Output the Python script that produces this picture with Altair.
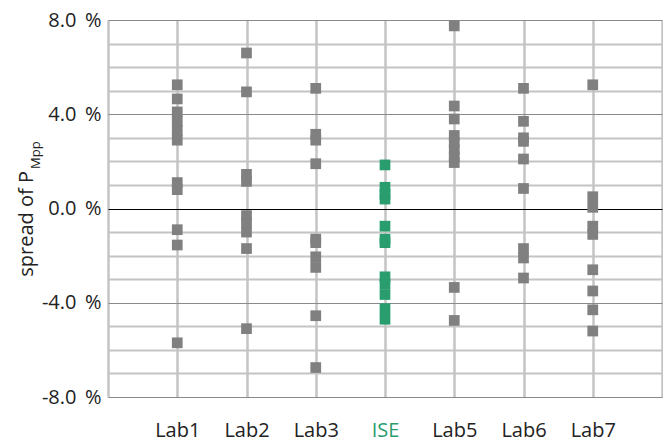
import altair as alt
import pandas as pd

labs = ["Lab1", "Lab2", "Lab3", "ISE", "Lab5", "Lab6", "Lab7"]
lab1 = [5.25, 4.65, 4.1, 3.7, 3.3, 2.9, 1.1, 0.8, -0.9, -1.55, -5.7]
lab2 = [6.6, 4.95, 1.45, 1.15, -0.3, -0.6, -1.0, -1.7, -5.1]
lab3 = [5.1, 3.15, 2.9, 1.9, -1.3, -1.45, -2.05, -2.5, -4.55, -6.75]
ise = [1.85, 0.9, 0.6, 0.4, -0.75, -1.3, -1.45, -2.9, -3.2, -3.65, -4.25, -4.7]
lab5 = [7.75, 4.35, 3.8, 3.1, 2.8, 2.5, 2.2, 1.95, -3.35, -4.75]
lab6 = [5.1, 3.7, 3.0, 2.85, 2.1, 0.85, -1.7, -2.1, -2.95]
lab7 = [5.25, 0.5, 0.05, -0.75, -1.1, -2.6, -3.5, -4.3, -5.2]
series = [lab1, lab2, lab3, ise, lab5, lab6, lab7]

rows = []
for i, (name, vals) in enumerate(zip(labs, series)):
    for v in vals:
        rows.append({"lab": name, "pos": i + 1, "spread": v, "isISE": name == "ISE"})
df = pd.DataFrame(rows)

GREEN = "#2a9d6f"
GRAY = "#808080"
FONT = "Open Sans"
TXT = "#222222"

lab_array = "[" + ",".join("'" + l + "'" for l in labs) + "]"

x_axis = alt.Axis(
    values=list(range(0, 9)),
    labelExpr=f"datum.value >= 1 && datum.value <= 7 ? {lab_array}[datum.value - 1] : ''",
    grid=True,
    gridColor="#c4c4c4",
    gridWidth=2.5,
    ticks=False,
    domain=False,
    title=None,
    labelFontSize=20,
    labelFont=FONT,
    labelColor={"condition": {"test": "datum.value === 4", "value": GREEN}, "value": TXT},
    labelPadding=23,
)

y_axis = alt.Axis(
    values=list(range(-8, 9)),
    labelExpr="datum.value % 4 === 0 ? (datum.value < 0 ? '-' : '') + format(abs(datum.value), '.1f') + '\u2009 %' : ''",
    grid=True,
    gridColor={"condition": [
        {"test": "datum.value === 0", "value": "#000000"},
        {"test": "datum.value % 4 === 0", "value": "#8a8a8a"}],
        "value": "#c4c4c4"},
    gridWidth={"condition": {"test": "datum.value % 4 === 0", "value": 1.2}, "value": 2},
    ticks=False,
    domain=False,
    title=None,
    labelFontSize=20,
    labelFont=FONT,
    labelColor=TXT,
    labelPadding=7,
)

points = alt.Chart(df).mark_square(size=115, opacity=1).encode(
    x=alt.X("pos:Q", scale=alt.Scale(domain=[0, 8], nice=False), axis=x_axis),
    y=alt.Y("spread:Q", scale=alt.Scale(domain=[-8, 8], nice=False), axis=y_axis),
    color=alt.Color("isISE:N", scale=alt.Scale(domain=[False, True], range=[GRAY, GREEN]), legend=None),
)

title_main = alt.Chart(pd.DataFrame({"t": ["spread of P"]})).mark_text(
    angle=270, align="right", baseline="middle", fontSize=20, font=FONT, color=TXT
).encode(text="t:N", x=alt.value(-81), y=alt.value(151))

title_sub = alt.Chart(pd.DataFrame({"t": ["Mpp"]})).mark_text(
    angle=270, align="left", baseline="middle", fontSize=13, font=FONT, color=TXT
).encode(text="t:N", x=alt.value(-72), y=alt.value(149))

chart = alt.layer(points, title_main, title_sub).properties(
    width=554, height=377,
    autosize=alt.AutoSizeParams(type="none"),
    padding={"left": 100, "top": 12, "right": 1, "bottom": 44},
).configure_view(strokeWidth=0)

chart.save("out.html", embed_options={"renderer": "svg", "actions": False})
